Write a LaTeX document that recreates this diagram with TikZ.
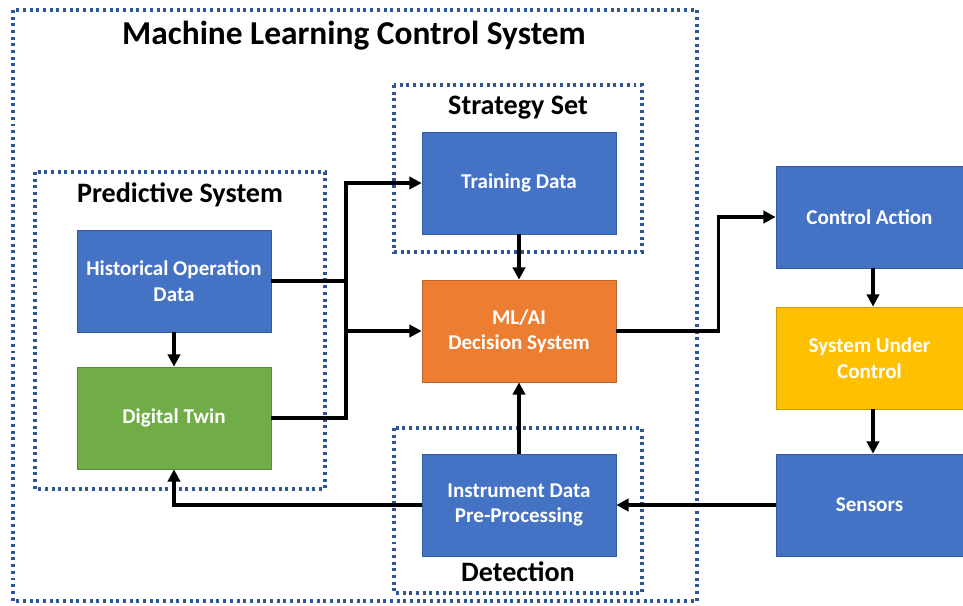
\documentclass[tikz,border=0pt]{standalone}
\usepackage{fontspec}
\setmainfont{Carlito}
\usetikzlibrary{arrows.meta}
\definecolor{boxblue}{HTML}{4472C4}
\definecolor{boxorange}{HTML}{ED7D31}
\definecolor{boxgreen}{HTML}{70AD47}
\definecolor{boxyellow}{HTML}{FFC000}
\definecolor{dotblue}{HTML}{2F5597}
\tikzset{
  box/.style={draw=#1!80!black, fill=#1, text=white, font=\bfseries\fontsize{12}{14.5}\selectfont,
    align=center, minimum width=3.88cm, minimum height=2.04cm, inner sep=2pt},
  sidebox/.style={box=#1, minimum width=3.74cm},
  group/.style={draw=dotblue, line width=1.8pt, dash pattern=on 1.7pt off 2.1pt},
  grouplabel/.style={font=\bfseries\fontsize{16}{18}\selectfont},
  flow/.style={line width=1.9pt, -{Triangle[length=7pt,width=7pt]}},
  link/.style={line width=1.9pt}
}
\begin{document}
\begin{tikzpicture}[x=0.02cm,y=-0.02cm]
        \useasboundingbox (0,0) rectangle (963,605);
        % dotted groups
        \draw[group] (13,10) rectangle (697,601);
        \draw[group] (35,172) rectangle (325,489);
        \draw[group] (394,85) rectangle (642,252);
        \draw[group] (394,428) rectangle (642,593);
        \node[font=\bfseries\fontsize{19}{22}\selectfont] (title) at (354,36) {Machine Learning Control System};
        \node[grouplabel] (predlabel) at (180,195) {Predictive System};
        \node[grouplabel] (stratlabel) at (518,108) {Strategy Set};
        \node[grouplabel] (detlabel) at (518,572) {Detection};
        % boxes
        \node[box=boxblue] (hist) at (174,281) {Historical Operation\\Data};
        \node[box=boxgreen] (twin) at (174,418) {Digital Twin};
        \node[box=boxblue] (train) at (519,183) {Training Data};
        \node[box=boxorange] (mlai) at (519,331) {ML/AI\\Decision System};
        \node[box=boxblue] (instr) at (519,505) {Instrument Data\\Pre-Processing};
        \node[sidebox=boxblue] (action) at (869.5,217) {Control Action};
        \node[sidebox=boxyellow] (plant) at (869.5,358) {System Under\\Control};
        \node[sidebox=boxblue] (sensors) at (869.5,505) {Sensors};
        % connectors
        \coordinate (join) at (346,331);
        \draw[link] (hist.east) -- (hist.east -| join) -- (join);
        \draw[link] (twin.east) -| (join);
        \draw[flow] (hist.east -| join) |- (train.west);
        \draw[flow] (join) -- (join -| mlai.west);
        \draw[flow] (hist) -- (twin);
        \draw[flow] (train) -- (mlai);
        \draw[flow] (instr) -- (mlai);
        \draw[flow] (mlai.east) -- ++(102,0) |- (action.west);
        \draw[flow] (action.south -| 873,0) -- (plant.north -| 873,0);
        \draw[flow] (plant.south -| 873,0) -- (sensors.north -| 873,0);
        \draw[flow] (sensors.west) -- (instr.east);
        \draw[flow] (instr.west) -| (twin.south);
    \end{tikzpicture}
\end{document}
